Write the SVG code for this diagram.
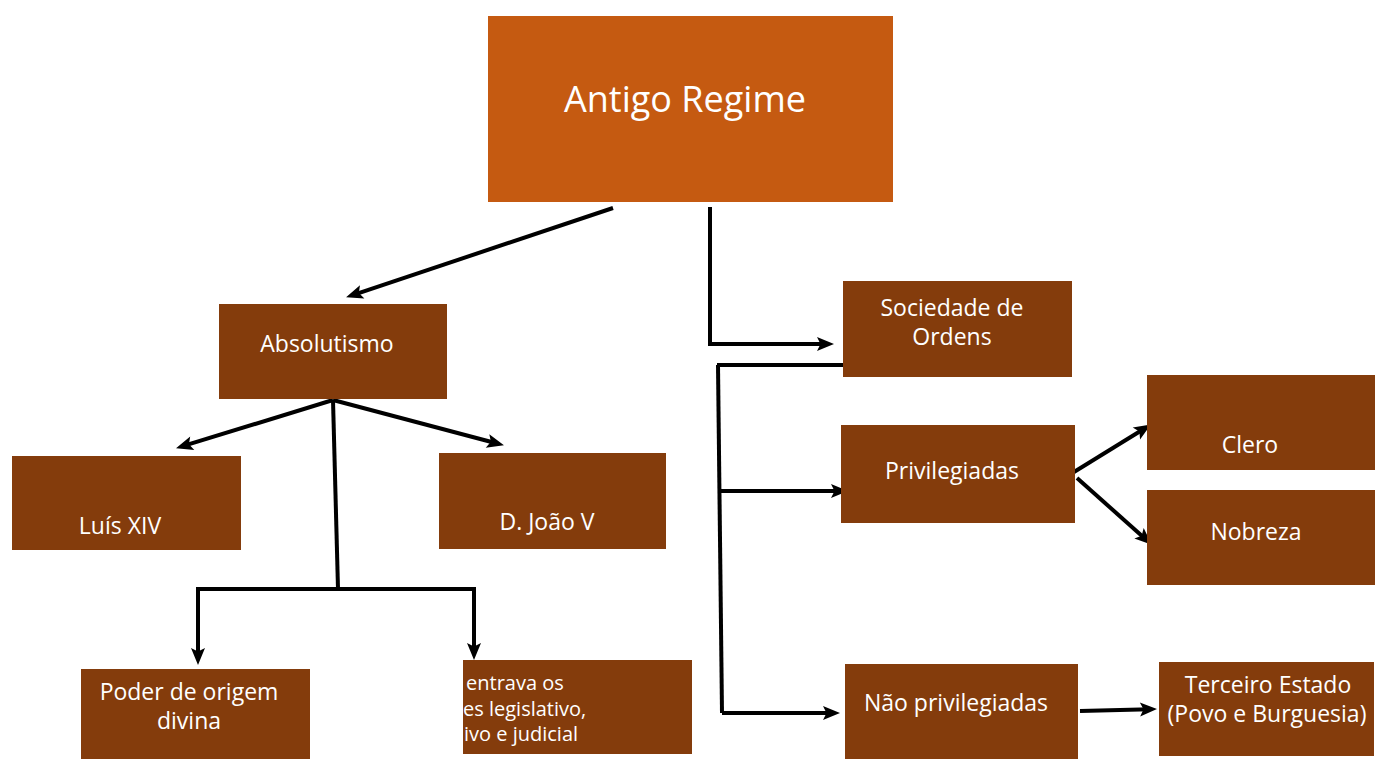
<svg xmlns="http://www.w3.org/2000/svg" width="1377" height="759" viewBox="0 0 1377 759">
<style>
.box{fill:#843C0C;}
.top{fill:#C55A11;}
text{font-family:"Open Sans","Noto Sans","Liberation Sans",sans-serif;fill:#FFFFFF;font-size:23px;}
.c{text-anchor:middle;}
.big{font-size:36px;}
.sm{font-size:20px;}
.ln{fill:none;stroke:#000000;stroke-width:4;stroke-linejoin:miter;}
.ar{marker-end:url(#ah);}
</style>
<defs>
<marker id="ah" markerUnits="userSpaceOnUse" markerWidth="17" markerHeight="14" refX="10" refY="7" orient="auto" overflow="visible">
<path d="M0,0 L17,7 L0,14 L3.5,7 z" fill="#000000"/>
</marker>
<clipPath id="clipC"><rect x="463" y="660" width="229" height="94"/></clipPath>
</defs>
<rect width="1377" height="759" fill="#FFFFFF"/>

<g id="connectors">
<path class="ln ar" d="M613,208 L352.7,295.1"/>
<path class="ln ar" d="M710,207 L710,344 L827,344"/>
<path class="ln" d="M844,365 L717,365"/>
<path class="ln" d="M718,365 L722,713"/>
<path class="ln ar" d="M720,491 L841,491"/>
<path class="ln ar" d="M722,713 L833,713"/>
<path class="ln ar" d="M333,400 L182.7,446.2"/>
<path class="ln ar" d="M333,400 L497.2,443.5"/>
<path class="ln" d="M333,400 L338,589"/>
<path class="ln ar" d="M198,589 L474,589 L474,653"/>
<path class="ln ar" d="M198,587 L198,658"/>
<path class="ln ar" d="M1074,472 L1144.9,428.2"/>
<path class="ln ar" d="M1077,478 L1146.5,540"/>
<path class="ln ar" d="M1080,711 L1150,709.2"/>
</g>

<g id="antigo-regime">
<rect class="top" x="488" y="16" width="405" height="186"/>
<text class="c big" x="685" y="112">Antigo Regime</text>
</g>
<g id="absolutismo">
<rect class="box" x="219" y="304" width="228" height="95"/>
<text class="c" x="327" y="352">Absolutismo</text>
</g>
<g id="luis-xiv">
<rect class="box" x="12" y="456" width="229" height="94"/>
<text class="c" x="120" y="534">Luís XIV</text>
</g>
<g id="d-joao-v">
<rect class="box" x="439" y="453" width="227" height="96"/>
<text class="c" x="547" y="530">D. João V</text>
</g>
<g id="poder-divino">
<rect class="box" x="81" y="669" width="229" height="90"/>
<text class="c" x="189" y="700">Poder de origem</text>
<text class="c" x="189" y="729">divina</text>
</g>
<g id="concentrava">
<rect class="box" x="463" y="660" width="229" height="94"/>
<g clip-path="url(#clipC)">
<text class="sm" x="466" y="690">entrava os</text>
<text class="sm" x="463" y="716">es legislativo,</text>
<text class="sm" x="464" y="741">ivo e judicial</text>
</g>
</g>
<g id="sociedade-ordens">
<rect class="box" x="843" y="281" width="229" height="96"/>
<text class="c" x="952" y="316">Sociedade de</text>
<text class="c" x="952" y="345">Ordens</text>
</g>
<g id="privilegiadas">
<rect class="box" x="841" y="425" width="234" height="98"/>
<text class="c" x="952" y="479">Privilegiadas</text>
</g>
<g id="clero">
<rect class="box" x="1147" y="375" width="228" height="95"/>
<text class="c" x="1250" y="453">Clero</text>
</g>
<g id="nobreza">
<rect class="box" x="1147" y="490" width="228" height="95"/>
<text class="c" x="1256" y="540">Nobreza</text>
</g>
<g id="nao-privilegiadas">
<rect class="box" x="845" y="664" width="233" height="95"/>
<text class="c" x="956" y="711">Não privilegiadas</text>
</g>
<g id="terceiro-estado">
<rect class="box" x="1159" y="662" width="215" height="94"/>
<text class="c" x="1268" y="693">Terceiro Estado</text>
<text class="c" x="1267" y="722">(Povo e Burguesia)</text>
</g>
</svg>
